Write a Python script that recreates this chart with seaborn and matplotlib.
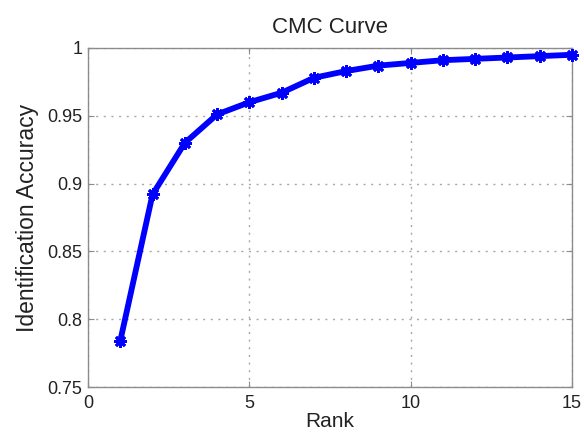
import matplotlib
matplotlib.use("Agg")
import matplotlib.pyplot as plt
import seaborn as sns
import pandas as pd

# Cumulative match characteristic: identification accuracy per rank
ranks = [1, 2, 3, 4, 5, 6, 7, 8, 9, 10, 11, 12, 13, 14, 15]
accuracy = [0.784, 0.892, 0.930, 0.951, 0.960, 0.967, 0.978, 0.983,
            0.987, 0.989, 0.991, 0.992, 0.993, 0.994, 0.995]

x_ticks = [0, 5, 10, 15]
x_tick_labels = ["0", "5", "10", "15"]
y_ticks = [0.75, 0.8, 0.85, 0.9, 0.95, 1.0]
y_tick_labels = ["0.75", "0.8", "0.85", "0.9", "0.95", "1"]

sns.set_theme(style="white")
plt.rcParams["font.family"] = ["Liberation Sans", "DejaVu Sans"]

df = pd.DataFrame({"Rank": ranks, "Accuracy": accuracy})

fig = plt.figure(figsize=(5.84, 4.33), dpi=100)
ax = fig.add_axes([88 / 584, 1 - 387 / 433, (572 - 88) / 584, (387 - 48) / 433])

# thick blue line with asterisk markers
sns.lineplot(data=df, x="Rank", y="Accuracy", ax=ax, color="#0000ff",
             linewidth=4.2, marker=(8, 2, 0), markersize=9,
             markeredgecolor="#0000ff", markeredgewidth=2.0, clip_on=False,
             zorder=3)

ax.set_xlim(0, 15)
ax.set_ylim(0.75, 1.0)
ax.set_xticks(x_ticks)
ax.set_xticklabels(x_tick_labels)
ax.set_yticks(y_ticks)
ax.set_yticklabels(y_tick_labels)

ax.grid(True, linestyle=(0, (1.5, 4)), color="#a8a8a8", linewidth=1.0)
for spine in ax.spines.values():
    spine.set_color("#8c8c8c")
    spine.set_linewidth(1.0)

ax.tick_params(axis="both", which="major", direction="in", length=4,
               width=0.8, color="#8c8c8c", labelsize=13, labelcolor="#222222",
               top=True, right=True, bottom=True, left=True)
ax.tick_params(axis="x", pad=6)
ax.tick_params(axis="y", pad=4)

ax.set_xlabel("Rank", fontsize=15, color="#222222", labelpad=0)
ax.set_ylabel("Identification Accuracy", fontsize=16.5, color="#222222", labelpad=6)
ax.set_title("CMC Curve", fontsize=16, color="#222222", pad=11)

fig.savefig("out.png", dpi=100)
